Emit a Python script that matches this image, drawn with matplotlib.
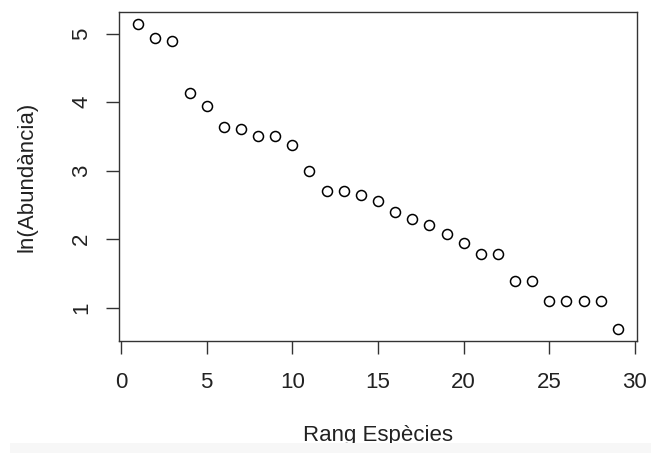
import matplotlib.pyplot as plt
import matplotlib.patches as mpatches

plt.rcParams['font.family'] = ['Liberation Sans', 'DejaVu Sans']

# Rank of each species and ln of its abundance
rang = list(range(1, 30))
ln_abund = [5.14, 4.94, 4.89, 4.14, 3.95, 3.64, 3.61, 3.50, 3.50, 3.37,
            3.00, 2.71, 2.71, 2.64, 2.56, 2.40, 2.30, 2.20, 2.08, 1.95,
            1.79, 1.79, 1.39, 1.39, 1.10, 1.10, 1.10, 1.10, 0.69]

x_ticks = [0, 5, 10, 15, 20, 25, 30]
y_ticks = [1, 2, 3, 4, 5]

W, H = 651, 453
fig = plt.figure(figsize=(W / 100, H / 100), dpi=100)
# faint grey strip at the bottom of the screenshot
fig.patches.append(mpatches.Rectangle((10 / W, 0), 1, 10 / H, transform=fig.transFigure,
                                      facecolor='#f7f7f7', edgecolor='none', zorder=0))
ax = fig.add_axes([119 / W, 1 - 341 / H, (637 - 119) / W, (341 - 12) / H])

ax.plot(rang, ln_abund, linestyle='none', marker='o', markersize=7.2,
        markerfacecolor='none', markeredgecolor='black', markeredgewidth=1.1)

# R style 4% padding
pad_x = (max(rang) - min(rang)) * 0.04
pad_y = (max(ln_abund) - min(ln_abund)) * 0.04
ax.set_xlim(min(rang) - pad_x, max(rang) + pad_x)
ax.set_ylim(min(ln_abund) - pad_y, max(ln_abund) + pad_y)

ax.set_xticks(x_ticks)
ax.set_yticks(y_ticks)
ax.set_yticklabels([str(v) for v in y_ticks], rotation=90, va='center')
ax.tick_params(direction='out', length=9.4, width=1, labelsize=16, colors='#333333',
               labelcolor='#222222')
ax.tick_params(axis='x', pad=13)
ax.tick_params(axis='y', pad=10)

for s in ax.spines.values():
    s.set_linewidth(1.0)
    s.set_color('#333333')

ax.set_xlabel('Rang Espècies', fontsize=16, color='#222222', va='center')
ax.xaxis.set_label_coords(378 / W, 1 - 436 / H, transform=fig.transFigure)
ax.set_ylabel('ln(Abundància)', fontsize=16, color='#222222', va='center')
ax.yaxis.set_label_coords(27 / W, 1 - 177 / H, transform=fig.transFigure)

fig.savefig('out.png', dpi=100)
